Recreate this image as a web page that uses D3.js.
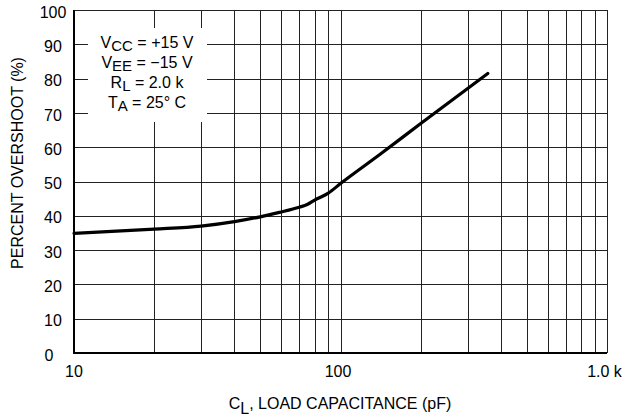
<!DOCTYPE html>
<html lang="en">
<head>
    <meta charset="UTF-8">
    <title>Percent Overshoot vs Load Capacitance</title>
    <style>
        body {
            margin: 0;
            background: #fff;
            font-family: "Liberation Sans", Arial, sans-serif;
        }
        .grid line {
            stroke: #222;
            stroke-width: 1;
        }
        text {
            font-size: 16px;
            fill: #000;
        }
    </style>
</head>
<body>
    <svg width="627" height="419"></svg>

    <script src="https://d3js.org/d3.v7.min.js"></script>
    <script>
        // data
        const capacitance = [10, 20, 30, 40, 50, 59, 70, 75, 80, 90, 100, 140, 200, 357];
        const overshoot = [34.9, 36.1, 37.0, 38.3, 39.7, 41.0, 42.5, 43.3, 44.6, 46.6, 49.4, 57.8, 66.9, 81.5];
        const yTicks = [0, 10, 20, 30, 40, 50, 60, 70, 80, 90, 100];
        const xLabels = [[10, "10"], [100, "100"], [1000, "1.0 k"]];
        const legendLines = [
            ["V", "CC", " = +15 V"],
            ["V", "EE", " = \u221215 V"],
            ["R", "L", " = 2.0 k"],
            ["T", "A", " = 25\u00b0 C"]
        ];

        const width = 627, height = 419;
        const margin = {top: 10, right: 20, bottom: 66, left: 74};
        const svg = d3.select("svg");

        const x = d3.scaleLog().domain([10, 1000]).range([margin.left, width - margin.right]);
        const y = d3.scaleLinear().domain([0, 100]).range([height - margin.bottom, margin.top]);

        // grid lines
        const xGrid = [];
        [10, 100].forEach(d => { for (let i = 1; i <= 10; i++) xGrid.push(d * i); });
        const grid = svg.append("g").attr("class", "grid");
        grid.selectAll(".v").data(xGrid).enter().append("line")
            .attr("x1", d => Math.round(x(d)) + 0.5).attr("x2", d => Math.round(x(d)) + 0.5)
            .attr("y1", y(100)).attr("y2", y(0));
        grid.selectAll(".h").data(yTicks).enter().append("line")
            .attr("x1", x(10)).attr("x2", x(1000))
            .attr("y1", d => Math.round(y(d)) + 0.5).attr("y2", d => Math.round(y(d)) + 0.5);

        // heavier left and bottom axes
        svg.append("line").attr("x1", x(10)).attr("x2", x(10)).attr("y1", y(100)).attr("y2", y(0) + 1)
            .attr("stroke", "#000").attr("stroke-width", 2);
        svg.append("line").attr("x1", x(10) - 1).attr("x2", x(1000)).attr("y1", y(0)).attr("y2", y(0))
            .attr("stroke", "#000").attr("stroke-width", 2);

        // legend box covers the grid
        svg.append("rect").attr("x", 88).attr("y", 28).attr("width", 119).attr("height", 94).attr("fill", "#fff");
        const legend = svg.append("g");
        legendLines.forEach((l, i) => {
            const t = legend.append("text").attr("x", 147).attr("y", 48 + i * 20).attr("text-anchor", "middle");
            t.append("tspan").text(l[0]);
            t.append("tspan").attr("dy", 3).style("font-size", "15px").text(l[1]);
            t.append("tspan").attr("dy", -3).text(l[2]);
        });

        // curve
        const pts = capacitance.map((c, i) => [c, overshoot[i]]);
        svg.append("path").datum(pts)
            .attr("fill", "none").attr("stroke", "#000").attr("stroke-width", 3.2)
            .attr("stroke-linecap", "round").attr("stroke-linejoin", "round")
            .attr("d", d3.line().x(d => x(d[0])).y(d => y(d[1])).curve(d3.curveMonotoneX));

        // tick labels
        svg.append("g").selectAll("text").data(yTicks).enter().append("text")
            .attr("x", d => d === 0 ? 49 : 53).attr("y", d => y(d) + 2)
            .attr("dy", "0.35em").attr("text-anchor", "middle").text(d => d);
        svg.append("g").selectAll("text").data(xLabels).enter().append("text")
            .attr("x", d => x(d[0]) - (d[0] === 10 ? 0 : 2.5)).attr("y", 377)
            .attr("text-anchor", "middle").text(d => d[1]);

        // axis titles
        const xt = svg.append("text").attr("x", 340).attr("y", 409).attr("text-anchor", "middle");
        xt.append("tspan").text("C");
        xt.append("tspan").attr("dy", 5).text("L");
        xt.append("tspan").attr("dy", -5).text(", LOAD CAPACITANCE (pF)");

        svg.append("text").attr("transform", "translate(23,163) rotate(-90)")
            .attr("text-anchor", "middle").text("PERCENT OVERSHOOT (%)");
    </script>
</body>
</html>
